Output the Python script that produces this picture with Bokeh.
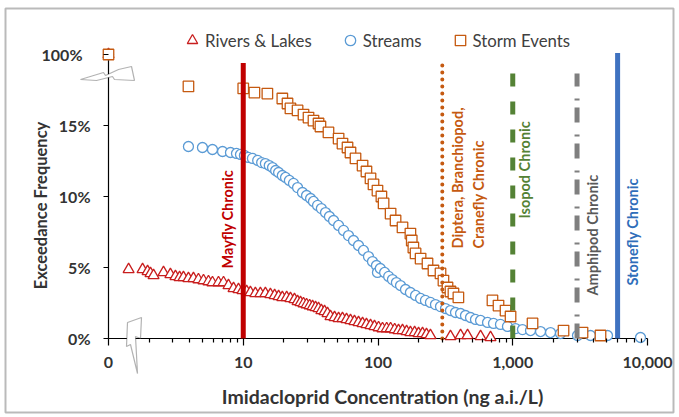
import math
from bokeh.plotting import figure
from bokeh.models import (Range1d, FixedTicker, CustomJSTickFormatter, Legend, LegendItem,
                          ColumnDataSource, PolyAnnotation, BoxAnnotation)
from bokeh.core.properties import value
from bokeh.embed import file_html
from bokeh.resources import INLINE

# ---------------- data (concentration ng a.i./L, exceedance %) ----------------
rivers_conc = [0, 1.41, 1.79, 1.95, 2.05, 2.16, 2.56, 2.88, 3.14, 3.37, 3.60, 3.92, 4.27, 4.65, 5.07, 5.52,
               5.91, 6.55, 7.14, 7.77, 8.47, 9.22, 9.87, 10.6, 11.3, 12.3, 13.4, 14.6, 15.9, 17.1, 18.3,
               19.5, 21.0, 22.4, 24.0, 25.3, 26.6, 28.0, 29.5, 31.1, 32.7, 34.4, 36.2, 38.0, 40.1, 42.2,
               44.4, 47.6, 51.0, 54.5, 58.4, 62.5, 66.9, 71.7, 76.8, 82.1, 88.0, 94.2, 101, 108, 116,
               124, 133, 142, 152, 163, 174, 187, 200, 214, 229, 245, 345, 410, 462, 577, 684]
rivers_pct = [100, 4.86, 4.86, 4.72, 4.58, 4.44, 4.65, 4.51, 4.37, 4.30, 4.30, 4.23, 4.23, 4.15, 4.08, 4.01,
              3.94, 3.94, 3.94, 3.73, 3.52, 3.45, 3.38, 3.31, 3.24, 3.17, 3.17, 3.17, 3.10, 3.03, 2.96,
              2.89, 2.89, 2.82, 2.75, 2.61, 2.54, 2.46, 2.39, 2.32, 2.25, 2.18, 2.11, 1.97, 1.90, 1.76,
              1.55, 1.48, 1.41, 1.41, 1.34, 1.27, 1.20, 1.13, 1.06, 0.99, 0.92, 0.85, 0.77, 0.70, 0.70,
              0.70, 0.63, 0.56, 0.56, 0.49, 0.42, 0.42, 0.35, 0.35, 0.28, 0.21, 0.14, 0.21, 0.21, 0.14, 0.07]

streams_conc = [0, 3.92, 4.98, 5.91, 7.02, 8.04, 8.91, 9.54, 10.2, 10.9, 11.7, 12.8, 13.7, 14.6, 15.6, 16.5,
                17.4, 18.3, 19.5, 20.6, 22.0, 23.6, 25.3, 27.5, 29.5, 31.6, 33.2, 35.6, 38.0, 40.8, 43.6,
                46.8, 51.0, 55.5, 60.4, 65.8, 71.7, 78.0, 85.0, 91.0, 97.4, 99.1, 104, 112, 120, 128,
                137, 147, 160, 174, 190, 207, 225, 245, 267, 291, 317, 345, 376, 410, 446,
                486, 529, 577, 650, 720, 811, 914, 1048, 1181, 1355, 1608, 1907, 2262, 3024, 3776, 5047, 8875]
streams_pct = [100, 13.52, 13.45, 13.31, 13.17, 13.10, 13.03, 12.96, 12.89, 12.75, 12.68, 12.54, 12.39, 12.32,
               12.18, 12.04, 11.83, 11.69, 11.48, 11.34, 11.13, 10.92, 10.63, 10.28, 10.07, 9.86, 9.65,
               9.37, 9.15, 8.87, 8.59, 8.31, 7.96, 7.61, 7.25, 6.90, 6.55, 6.20, 5.77, 5.42, 5.14, 4.65,
               4.93, 4.65, 4.37, 4.15, 3.94, 3.73, 3.45, 3.24, 3.03, 2.82, 2.68, 2.54, 2.39, 2.25, 2.11,
               1.97, 1.83, 1.76, 1.62, 1.48, 1.34, 1.27, 1.13, 1.06, 0.99, 0.85, 0.70, 0.63, 0.56, 0.49,
               0.42, 0.35, 0.21, 0.21, 0.21, 0.07]

storm_conc = [0, 3.92, 10.0, 12.1, 15.1, 19.5, 21.3, 22.4, 25.3, 28.0, 30.5, 33.2, 36.2, 37.4, 42.9, 51.0,
              54.5, 59.4, 62.5, 68.1, 76.8, 82.1, 88.0, 92.6, 99.1, 106, 110, 124, 135, 152, 174,
              178, 183, 190, 207, 233, 258, 291, 306, 328, 345, 363, 395, 707, 784, 884, 963, 1402,
              2381, 3294, 4479]
storm_pct = [100, 17.75, 17.61, 17.32, 17.25, 16.90, 16.55, 16.20, 16.06, 15.77, 15.56, 15.35, 15.14, 14.93,
             14.51, 14.08, 13.73, 13.45, 13.10, 12.68, 12.18, 11.76, 11.27, 10.85, 10.42, 10.00, 9.51,
             8.80, 8.31, 7.82, 7.39, 6.90, 6.41, 5.99, 5.63, 5.28, 4.79, 4.58, 4.08, 3.59, 3.31, 3.17,
             2.89, 2.68, 2.32, 1.97, 1.55, 1.06, 0.56, 0.42, 0.21]

series_names = ["Rivers & Lakes", "Streams", "Storm Events"]

threshold_names = ["Mayfly Chronic", "Diptera, Branchiopod,|Cranefly Chronic", "Isopod Chronic",
                   "Amphipod Chronic", "Stonefly Chronic"]
threshold_conc = [10, 300, 1000, 3000, 6000]

y_ticks = [0, 5, 10, 15, 100]
x_ticks = [0, 10, 100, 1000, 10000]
y_title = "Exceedance Frequency"
x_title = "Imidacloprid Concentration (ng a.i./L)"

# ---------------- broken-axis mapping ----------------
ZERO_POS = 1.0      # where concentration "0" sits on the log axis
TOP_POS = 20.0      # where 100% sits above the y-axis break


def xp(c):
    return ZERO_POS if c == 0 else c


def yp(v):
    return TOP_POS if v >= 100 else v


# ---------------- geometry (px) ----------------
W, H = 679, 417
FL, FR, FT, FB = 3, 676, 3, 414        # plot frame covers almost the whole canvas
AX_X, AX_Y = 108, 338                  # where the axis lines cross
X_END = 647                            # position of 10,000
PX_DEC = (X_END - AX_X) / 4.0          # px per decade
PX_PCT = 14.2                          # px per percent


def xdata(px):
    return 10 ** ((px - AX_X) / PX_DEC)


def ydata(py):
    return (AX_Y - py) / PX_PCT


p = figure(width=W, height=H, x_axis_type="log", title=None,
           x_range=Range1d(xdata(FL), xdata(FR)), y_range=Range1d(ydata(FB), ydata(FT)),
           output_backend="svg", toolbar_location=None,
           min_border_left=FL, min_border_right=W - FR, min_border_top=FT, min_border_bottom=H - FB)
p.xgrid.visible = False
p.ygrid.visible = False
p.outline_line_color = None
p.background_fill_color = "white"
p.border_fill_color = "white"

FONT = "Lato"
TXT = "#333333"

# axes: tick marks reach from the frame edge to the real axis lines
p.xaxis.ticker = FixedTicker(ticks=[xp(t) for t in x_ticks],
                             minor_ticks=[m * 10 ** k for k in range(4) for m in range(2, 10)])
p.yaxis.ticker = FixedTicker(ticks=[yp(t) for t in y_ticks], minor_ticks=[])
p.xaxis.formatter = CustomJSTickFormatter(code="""
    const v = Math.round(Math.log10(tick));
    return v <= 0 ? '0' : Math.pow(10, v).toLocaleString('en-US');
""")
# y tick labels are drawn next to the real axis line below
p.yaxis.formatter = CustomJSTickFormatter(code="return '';")
for ax in (p.xaxis[0], p.yaxis[0]):
    ax.axis_line_color = None
    ax.major_tick_line_color = "black"
    ax.minor_tick_line_color = "black"
    ax.major_tick_line_width = 1.2
    ax.minor_tick_line_width = 1.2
    ax.major_label_text_font = FONT
    ax.major_label_text_font_style = "bold"
    ax.major_label_text_font_size = "16px"
    ax.major_label_text_color = TXT
gap_x = FB - AX_Y
p.xaxis.major_tick_in = gap_x
p.xaxis.major_tick_out = -(gap_x - 7)
p.xaxis.minor_tick_in = gap_x
p.xaxis.minor_tick_out = -(gap_x - 4)
p.xaxis.major_label_standoff = 11
gap_y = AX_X - FL
p.yaxis.major_tick_in = gap_y
p.yaxis.major_tick_out = -(gap_y - 5)
p.yaxis.minor_tick_in = 0
p.yaxis.minor_tick_out = -(gap_y - 5)
p.yaxis.major_label_standoff = 0

# axis lines
p.segment(x0=[ZERO_POS, ZERO_POS], y0=[0, 0], x1=[10000, ZERO_POS], y1=[0, TOP_POS],
          line_color="black", line_width=1.2)

# y tick labels (the 100% label sits a little further left, past the axis break)
p.text(x=[ZERO_POS] * len(y_ticks), y=[yp(t) for t in y_ticks], text=[f"{t}%" for t in y_ticks],
       x_offset=[-26 if t >= 100 else -18 for t in y_ticks], text_align="right",
       text_baseline="middle", text_font=value(FONT),
       text_font_style="bold", text_font_size="16px", text_color=TXT)

# series
colors = ["#C81E1E", "#5B9BD5", "#C55A11"]
markers = ["triangle", "circle", "square"]
sizes = [11, 10, 10.5]
renderers = []
for cx, cy, col, mk, sz in zip([rivers_conc, streams_conc, storm_conc],
                               [rivers_pct, streams_pct, storm_pct], colors, markers, sizes):
    src = ColumnDataSource(dict(x=[xp(c) for c in cx], y=[yp(v) for v in cy]))
    r = p.scatter("x", "y", source=src, marker=mk, size=sz, line_color=col,
                  fill_color="white", line_width=1.3)
    renderers.append(r)

# threshold lines
line_cols = ["#C00000", "#C55A11", "#548235", "#7F7F7F", "#3F72C0"]
line_tops = [19.4, 19.35, 19.35, 18.66, 20.1]
line_dash = ["solid", "0 7", "13 15", "15 7 2 12", "solid"]
line_w = [5, 4, 5, 5, 5]
line_cap = ["butt", "round", "butt", "butt", "butt"]
for c, col, top, dash, lw, cap in zip(threshold_conc, line_cols, line_tops, line_dash, line_w, line_cap):
    p.segment(x0=[c], y0=[0], x1=[c], y1=[top], line_color=col, line_width=lw,
              line_dash=dash, line_cap=cap)

# threshold labels (rotated)
lab_text, lab_x, lab_y, lab_off, lab_col = [], [], [], [], []
lab_pos = [(4.93, [-16]), (6.34, [15, 36]), (8.45, [12]), (3.03, [15.5]), (3.73, [15])]
text_cols = ["#C00000", "#C55A11", "#548235", "#595959", "#2F6EBA"]
for name, c, (ystart, offs), col in zip(threshold_names, threshold_conc, lab_pos, text_cols):
    for part, off in zip(name.split("|"), offs):
        lab_text.append(part)
        lab_x.append(c)
        lab_y.append(ystart)
        lab_off.append(off)
        lab_col.append(col)
p.text(x="x", y="y", text="text", x_offset="off", text_color="col",
       source=ColumnDataSource(dict(x=lab_x, y=lab_y, text=lab_text, off=lab_off, col=lab_col)),
       angle=math.pi / 2, text_align="left", text_baseline="middle",
       text_font=value(FONT), text_font_style="bold", text_font_size="14.5px")

# axis titles
p.text(x=[xdata(40)], y=[ydata(205)], text=[y_title], angle=math.pi / 2,
       text_align="center", text_baseline="middle", text_font=value(FONT),
       text_font_style="bold", text_font_size="16.5px", text_color=TXT)
p.text(x=[xdata(382)], y=[ydata(396)], text=[x_title],
       text_align="center", text_baseline="middle", text_font=value(FONT),
       text_font_style="bold", text_font_size="19.5px", text_color=TXT)

# legend
legend = Legend(items=[LegendItem(label=n, renderers=[r]) for n, r in zip(series_names, renderers)],
                orientation="horizontal", location=(179 - FL, FB - 53),
                glyph_width=26, glyph_height=26, label_standoff=0, spacing=25,
                padding=0, margin=0, border_line_color=None, background_fill_alpha=0,
                label_text_font=FONT, label_text_font_size="16.8px", label_text_color="#404040")
p.add_layout(legend)

# axis-break symbols (canvas pixels)
ybreak = [(80, 79), (103, 72), (105, 75), (118, 69), (131, 66), (134, 80), (114, 79), (112, 76), (96, 80)]
xbreak = [(127, 322), (141, 317), (140, 338), (135, 336), (137, 373), (130, 344), (126, 346)]
for shape in (ybreak, xbreak):
    p.add_layout(PolyAnnotation(xs=[q[0] for q in shape], ys=[q[1] for q in shape],
                                xs_units="canvas", ys_units="canvas",
                                fill_color="white", fill_alpha=1, line_color="black", line_width=1.2))

# outer border of the chart
p.add_layout(BoxAnnotation(left=5, right=673, top=8, bottom=412,
                           left_units="canvas", right_units="canvas",
                           top_units="canvas", bottom_units="canvas",
                           fill_alpha=0, line_color="#1a1a1a", line_width=2))

open("out.html", "w").write(file_html(p, INLINE))
